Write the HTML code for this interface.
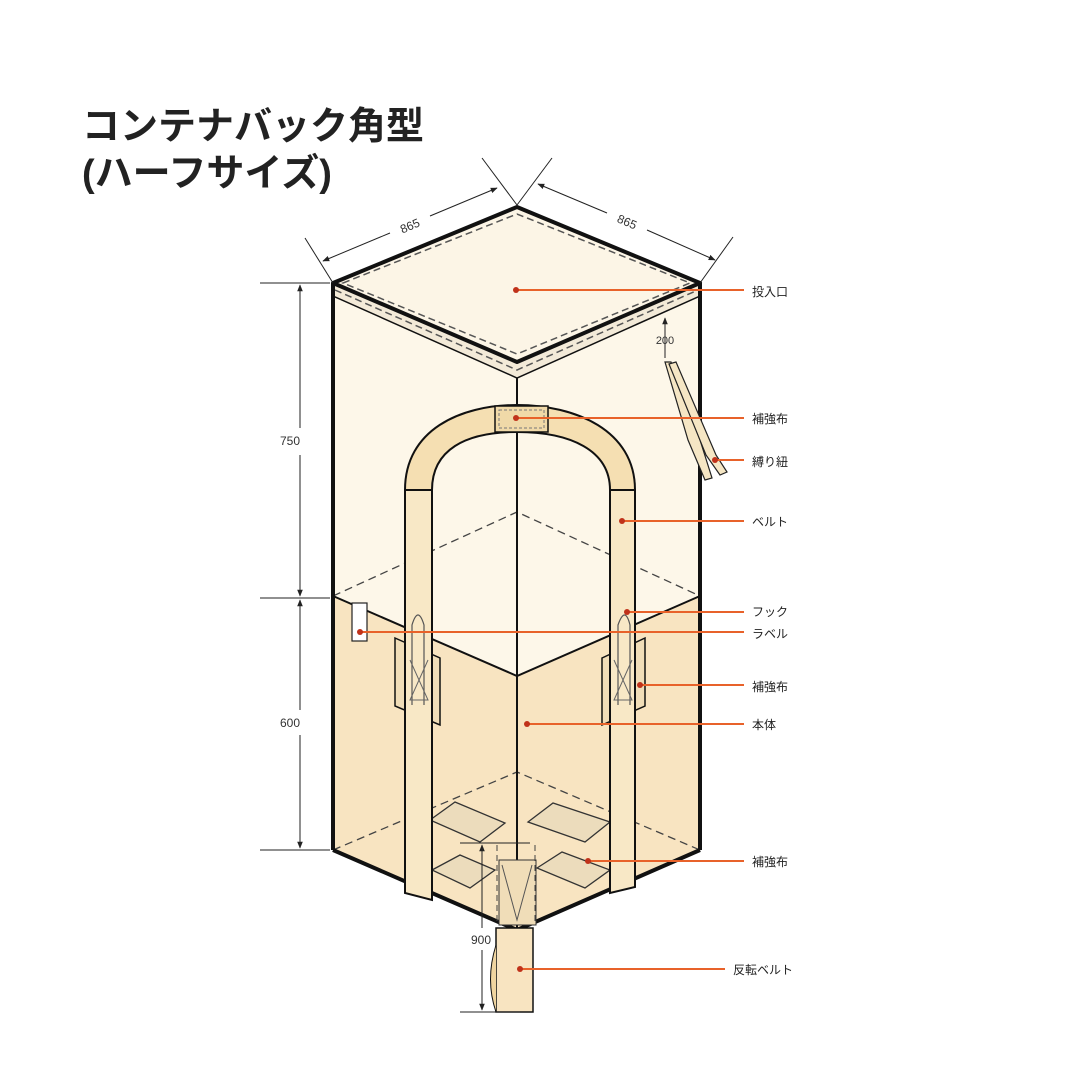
<!DOCTYPE html>
<html><head><meta charset="utf-8"><style>
html,body{margin:0;padding:0;background:#fff;}
svg{display:block}
text{font-family:"Liberation Sans","Noto Sans CJK JP",sans-serif;}
</style></head><body>
<svg width="1080" height="1080" viewBox="0 0 1080 1080" xmlns="http://www.w3.org/2000/svg">
<defs>
<marker id="ar" viewBox="0 0 10 10" refX="9" refY="5" markerWidth="7" markerHeight="7" orient="auto-start-reverse"><path d="M0,1 L10,5 L0,9 Z" fill="#222"/></marker>
</defs>
<text x="82" y="139" font-size="38" font-weight="bold" fill="#222">コンテナバック角型</text>
<text x="82" y="186" font-size="38" font-weight="bold" fill="#222">(ハーフサイズ)</text>

<polygon points="333,283 517,362 517,930 333,850" fill="#fdf7e9"/>
<polygon points="517,362 700,283 700,850 517,930" fill="#fdf7e9"/>
<polygon points="333,596 517,676 517,930 333,850" fill="#f8e4c1"/>
<polygon points="517,676 700,596 700,850 517,930" fill="#f8e4c1"/>
<polygon points="333,283 517,362 700,283 700,296 517,378 333,296" fill="#f3ead8" stroke="#111" stroke-width="1.5"/>
<polyline points="335,290 517,370 698,290" fill="none" stroke="#555" stroke-width="1.5" stroke-dasharray="7,4"/>
<polygon points="333,283 517,207 700,283 517,362" fill="#fcf5e6" stroke="#111" stroke-width="4" stroke-linejoin="round"/>
<polygon points="343,283 517,214 690,283 517,354" fill="none" stroke="#555" stroke-width="1.5" stroke-dasharray="7,4"/>

<polyline points="333,596 517,512 700,596" fill="none" stroke="#444" stroke-width="1.3" stroke-dasharray="8,5"/>
<polyline points="333,596 517,676 700,596" fill="none" stroke="#111" stroke-width="2"/>
<polyline points="333,850 517,772 700,850" fill="none" stroke="#444" stroke-width="1.3" stroke-dasharray="8,5"/>

<line x1="333" y1="283" x2="333" y2="850" stroke="#111" stroke-width="4"/>
<line x1="700" y1="283" x2="700" y2="850" stroke="#111" stroke-width="4"/>
<line x1="517" y1="378" x2="517" y2="930" stroke="#111" stroke-width="2"/>
<polyline points="333,850 517,930 700,850" fill="none" stroke="#111" stroke-width="4"/>

<g fill="#ecdcbc" stroke="#333" stroke-width="1.3">
<polygon points="430,820 455,802 505,823 480,842"/>
<polygon points="528,822 553,803 610,822 585,842"/>
<polygon points="432,870 460,855 495,870 470,888"/>
<polygon points="537,868 562,852 610,870 585,888"/>
</g>
<rect x="499" y="860" width="37" height="65" fill="#f0ddb8" stroke="#333" stroke-width="1"/>
<polyline points="502,865 517,920 532,865" fill="none" stroke="#555" stroke-width="1"/>
<line x1="497" y1="845" x2="497" y2="925" stroke="#444" stroke-dasharray="6,4"/>
<line x1="535" y1="845" x2="535" y2="925" stroke="#444" stroke-dasharray="6,4"/>

<rect x="352" y="603" width="15" height="38" fill="#fff" stroke="#222" stroke-width="1.2"/>

<g fill="#f0ddb8" stroke="#111" stroke-width="1.5">
<polygon points="395,638 440,658 440,725 395,706"/>
<polygon points="602,658 645,638 645,706 602,725"/>
</g>

<path d="M405,490 C405,430 460,405 517,405 C575,405 635,430 635,490 L610,490 C610,450 570,432 517,432 C465,432 432,450 432,490 Z" fill="#f5dfb2" stroke="#111" stroke-width="2"/>
<rect x="495" y="406" width="53" height="26" fill="#f0d9a8" stroke="#111" stroke-width="1.5"/>
<rect x="499" y="410" width="45" height="18" fill="none" stroke="#777" stroke-width="1" stroke-dasharray="3,2"/>
<polygon points="405,490 432,490 432,900 405,893" fill="#f8e8c6" stroke="#111" stroke-width="2"/>
<polygon points="610,490 635,490 635,887 610,893" fill="#f8e8c6" stroke="#111" stroke-width="2"/>
<path d="M412,705 L412,625 Q418,605 424,625 L424,705" fill="none" stroke="#555" stroke-width="1.2"/>
<path d="M618,705 L618,625 Q625,605 630,625 L630,705" fill="none" stroke="#555" stroke-width="1.2"/>
<polyline points="410,660 428,700 410,700 428,660" fill="none" stroke="#666"/>
<polyline points="614,660 632,700 614,700 632,660" fill="none" stroke="#666"/>

<rect x="496" y="928" width="37" height="84" fill="#f8e4c1" stroke="#111" stroke-width="1.5"/>
<path d="M496,945 Q485,980 496,1012" fill="#f0d5a0" stroke="#111" stroke-width="1"/>

<path d="M665,362 L671,362 L700,440 L712,478 L705,480 L688,440 Z" fill="#f5e6c4" stroke="#222" stroke-width="1.2"/>
<path d="M669,364 L676,362 L716,455 L727,472 L720,475 L706,455 Z" fill="#f5e6c4" stroke="#222" stroke-width="1.2"/>

<g stroke="#222" stroke-width="1" fill="none">
<line x1="305" y1="238" x2="333" y2="283"/>
<line x1="482" y1="158" x2="517" y2="205"/>
<line x1="552" y1="158" x2="517" y2="205"/>
<line x1="733" y1="237" x2="700" y2="283"/>
<line x1="390" y1="233" x2="323" y2="261" marker-end="url(#ar)"/>
<line x1="430" y1="216" x2="497" y2="188" marker-end="url(#ar)"/>
<line x1="607" y1="213" x2="538" y2="184" marker-end="url(#ar)"/>
<line x1="647" y1="230" x2="715" y2="260" marker-end="url(#ar)"/>
<line x1="260" y1="283" x2="330" y2="283"/>
<line x1="260" y1="598" x2="330" y2="598"/>
<line x1="260" y1="850" x2="330" y2="850"/>
<line x1="300" y1="428" x2="300" y2="285" marker-end="url(#ar)"/>
<line x1="300" y1="455" x2="300" y2="596" marker-end="url(#ar)"/>
<line x1="300" y1="710" x2="300" y2="600" marker-end="url(#ar)"/>
<line x1="300" y1="735" x2="300" y2="848" marker-end="url(#ar)"/>
<line x1="460" y1="843" x2="530" y2="843"/>
<line x1="460" y1="1012" x2="520" y2="1012"/>
<line x1="482" y1="928" x2="482" y2="845" marker-end="url(#ar)"/>
<line x1="482" y1="950" x2="482" y2="1010" marker-end="url(#ar)"/>
<line x1="665" y1="358" x2="665" y2="318" marker-end="url(#ar)"/>
</g>
<g font-size="12" fill="#333">
<text x="410" y="230" transform="rotate(-23 410 226)" text-anchor="middle">865</text>
<text x="627" y="226" transform="rotate(23 627 222)" text-anchor="middle">865</text>
<text x="290" y="445" text-anchor="middle">750</text>
<text x="290" y="727" text-anchor="middle">600</text>
<text x="481" y="944" text-anchor="middle">900</text>
<text x="665" y="344" text-anchor="middle" font-size="11">200</text>
</g>

<g stroke="#e8622a" stroke-width="2">
<line x1="516" y1="290" x2="744" y2="290"/>
<line x1="516" y1="418" x2="744" y2="418"/>
<line x1="715" y1="460" x2="744" y2="460"/>
<line x1="622" y1="521" x2="744" y2="521"/>
<line x1="627" y1="612" x2="744" y2="612"/>
<line x1="360" y1="632" x2="744" y2="632"/>
<line x1="640" y1="685" x2="744" y2="685"/>
<line x1="527" y1="724" x2="744" y2="724"/>
<line x1="588" y1="861" x2="744" y2="861"/>
<line x1="520" y1="969" x2="725" y2="969"/>
</g>
<g fill="#c0321a">
<circle cx="516" cy="290" r="3"/><circle cx="516" cy="418" r="3"/><circle cx="715" cy="460" r="3"/>
<circle cx="622" cy="521" r="3"/><circle cx="627" cy="612" r="3"/><circle cx="360" cy="632" r="3"/>
<circle cx="640" cy="685" r="3"/><circle cx="527" cy="724" r="3"/><circle cx="588" cy="861" r="3"/>
<circle cx="520" cy="969" r="3"/>
</g>
<g font-size="12" fill="#222">
<text x="752" y="296">投入口</text>
<text x="752" y="423">補強布</text>
<text x="752" y="466">縛り紐</text>
<text x="752" y="526">ベルト</text>
<text x="752" y="616">フック</text>
<text x="752" y="638">ラベル</text>
<text x="752" y="691">補強布</text>
<text x="752" y="729">本体</text>
<text x="752" y="866">補強布</text>
<text x="733" y="974">反転ベルト</text>
</g>
</svg>
</body></html>
